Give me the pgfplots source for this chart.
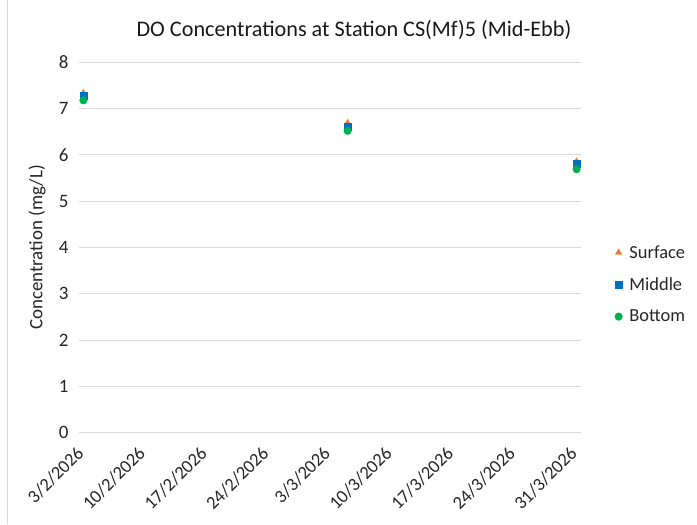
\documentclass[border=0pt]{standalone}
\usepackage{fontspec}
\setmainfont{Carlito}
\usepackage{pgfplots}
\pgfplotsset{compat=1.18}
\definecolor{surf}{HTML}{ED7D31}
\definecolor{midc}{HTML}{0070C0}
\definecolor{botc}{HTML}{00B050}
\definecolor{gridc}{HTML}{D9D9D9}
\begin{document}
\begin{tikzpicture}
\begin{axis}[
  at={(0,0)}, anchor=south west,
  scale only axis, width=502bp, height=370bp,
  xmin=-0.5, xmax=56.5, ymin=0, ymax=8,
  xtick={0,7,14,21,28,35,42,49,56},
  xticklabels={3/2/2026,10/2/2026,17/2/2026,24/2/2026,3/3/2026,10/3/2026,17/3/2026,24/3/2026,31/3/2026},
  ytick={0,1,...,8},
  ymajorgrids, major grid style={gridc, line width=0.8bp},
  axis line style={draw=none},
  axis x line*=bottom,
  x axis line style={draw=gridc, line width=0.8bp},
  major tick length=0pt,
  /pgf/number format/assume math mode=true,
  tick label style={font=\fontsize{19}{22}\selectfont, text=black!85},
  yticklabel style={xshift=-7bp},
  xticklabel style={rotate=45, anchor=north east, inner sep=1bp, xshift=-13.5bp, yshift=-2.5bp, font=\fontsize{18.5}{22}\selectfont},
  ylabel={Concentration (mg/L)},
  ylabel style={font=\fontsize{19}{22}\selectfont, text=black!85, at={(rel axis cs:-0.0837,0.5)}, anchor=center},
  title={DO Concentrations at Station CS(Mf)5 (Mid-Ebb)},
  title style={font=\fontsize{22.3}{26}\selectfont, text=black!90, yshift=13bp, xshift=24bp},
  legend style={draw=none, fill=none, at={(1.067,0.4)}, anchor=west,
    font=\fontsize{18.5}{21}\selectfont, text=black!85,
    row sep=14bp, inner sep=0pt,
    /tikz/every odd column/.append style={column sep=5bp}},
  legend cell align=left,
  clip=false,
]
\addplot[only marks, mark=triangle*, mark size=3.7bp, color=surf] coordinates {(0,7.34) (30,6.69) (56,5.86)};
\addlegendentry{Surface}
\addplot[only marks, mark=square*, mark size=3.5bp, color=midc] coordinates {(0,7.29) (30,6.62) (56,5.81)};
\addlegendentry{Middle}
\addplot[only marks, mark=*, mark size=3.8bp, color=botc] coordinates {(0,7.18) (30,6.52) (56,5.69)};
\addlegendentry{Bottom}
\end{axis}
\draw[gridc, line width=0.8bp] (-72bp,-92bp) -- (-72bp,432bp);
\path[use as bounding box] (-79bp,-92bp) rectangle (618bp,432bp);
\end{tikzpicture}
\end{document}
